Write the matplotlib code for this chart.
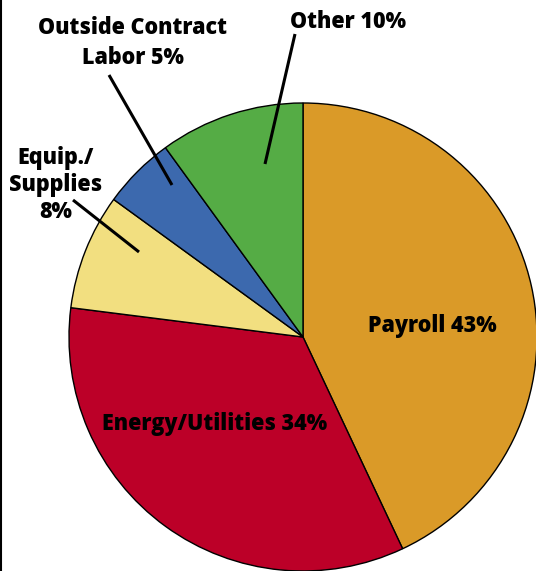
import matplotlib
matplotlib.use("Agg")
import matplotlib.pyplot as plt

categories = ["Payroll", "Energy/Utilities", "Equip./\nSupplies", "Outside Contract\nLabor", "Other"]
values = [43, 34, 8, 5, 10]
colors = ["#DA9A28", "#BC0028", "#F2DF80", "#3C69AE", "#55AC45"]

W, H = 536, 571
fig = plt.figure(figsize=(W / 100, H / 100), dpi=100)
ax = fig.add_axes([0, 0, 1, 1])

cx, cy, r = 303, H - 337, 234
wedges, _ = ax.pie(values, colors=colors, startangle=90, counterclock=False,
                   center=(cx, cy), radius=r, frame=True,
                   wedgeprops=dict(edgecolor="black", linewidth=1.0))
ax.set_xlim(0, W)
ax.set_ylim(0, H)
ax.set_aspect("equal")
ax.axis("off")

fam = ["Open Sans", "DejaVu Sans"]
fs = 15.5
kw = dict(fontsize=fs, fontweight="heavy", family=fam, ha="center", va="center",
          color="black")

def Y(y):
    return H - y

ax.text(432, Y(326), f"Payroll {values[0]}%", linespacing=1.15, **kw)
ax.text(215, Y(424), f"Energy/Utilities {values[1]}%", linespacing=1.15, **kw)
ax.text(348, Y(22), f"Other {values[4]}%", linespacing=1.15, **kw)
ax.text(133, Y(43), f"Outside Contract\nLabor {values[3]}%", linespacing=1.38, **kw)
ax.text(56, Y(185), f"Equip./\nSupplies\n{values[2]}%", linespacing=1.17, **kw)

lw = 2.2
ax.plot([295, 265], [Y(34), Y(164)], color="black", lw=lw, solid_capstyle="butt")
ax.plot([109, 172], [Y(75), Y(185)], color="black", lw=lw, solid_capstyle="butt")
ax.plot([73, 139], [Y(200), Y(252)], color="black", lw=lw, solid_capstyle="butt")

# left border line
ax.plot([1, 1], [0, H], color="black", lw=1.5, solid_capstyle="butt")

fig.savefig("out.png", dpi=100, facecolor="white")
